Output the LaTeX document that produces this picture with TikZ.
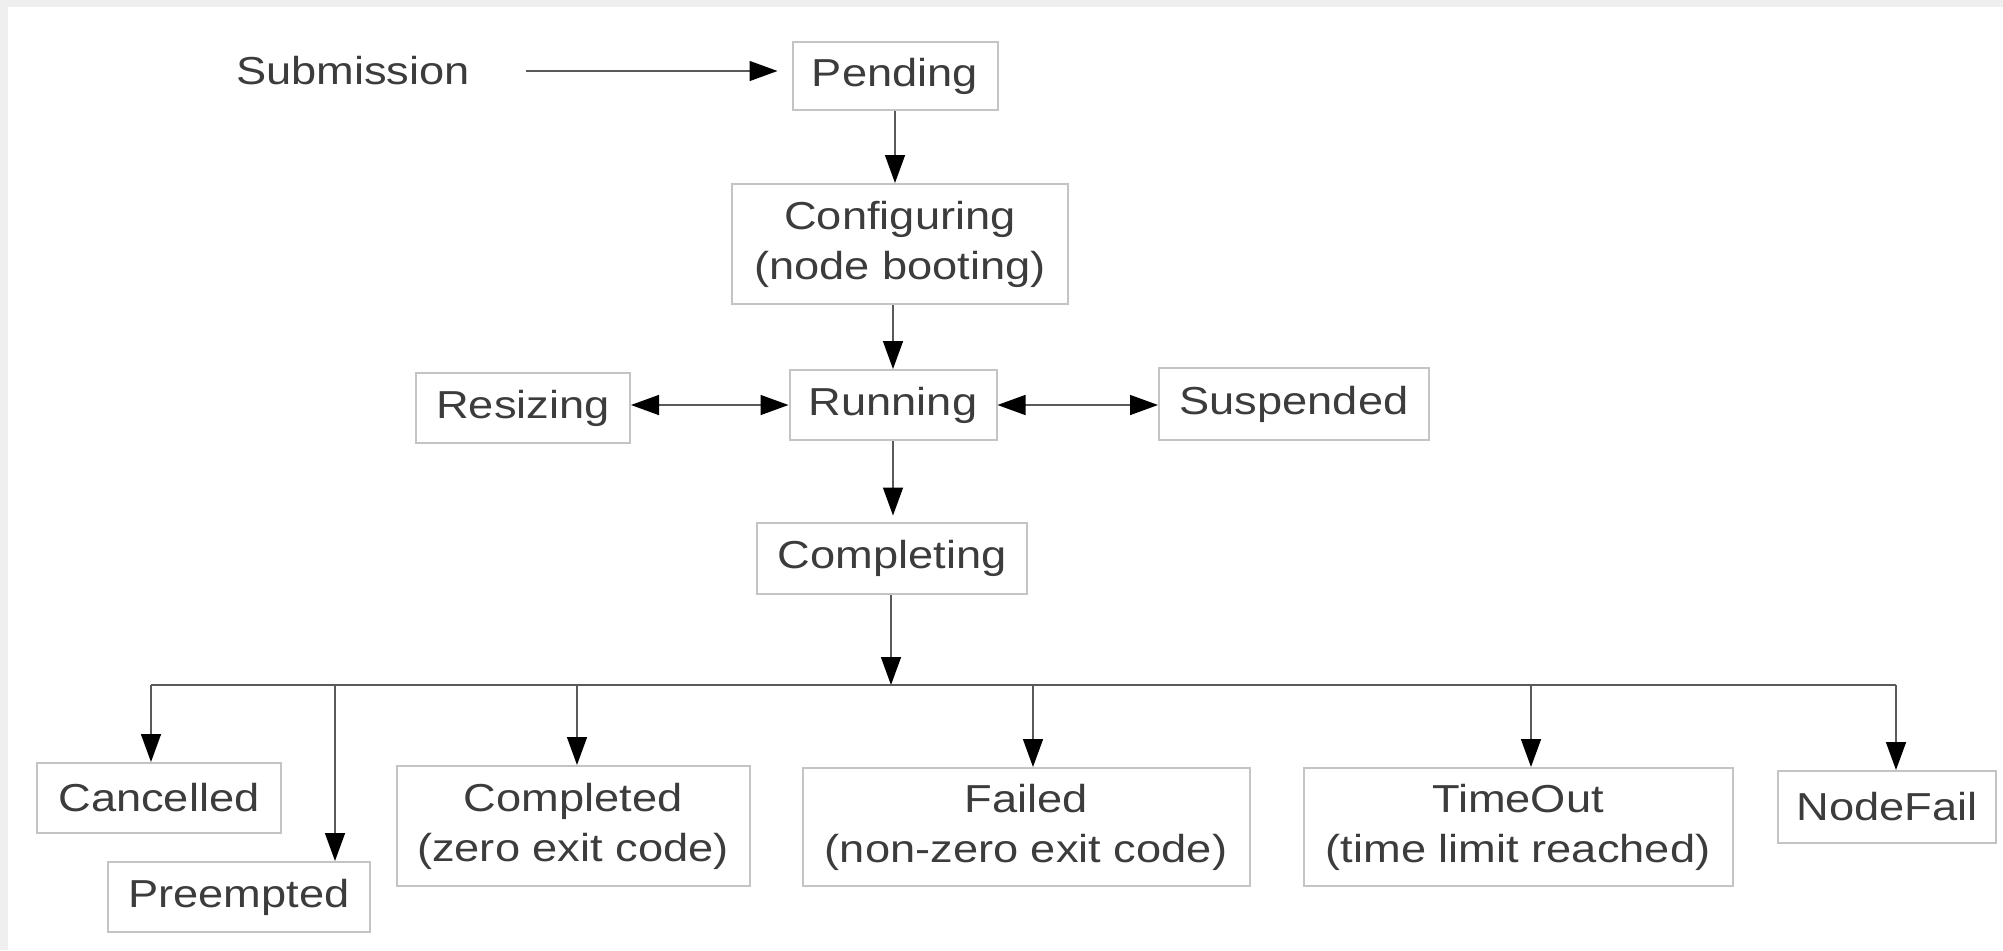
\documentclass[tikz,border=0pt]{standalone}
\usepackage{fontspec}
\setmainfont{Liberation Sans}[FakeStretch=1.16]
\usetikzlibrary{arrows.meta}
\definecolor{txt}{HTML}{3C3C3C}
\definecolor{bord}{HTML}{C4C4C4}
\definecolor{ln}{HTML}{5A5A5A}
\definecolor{framecol}{HTML}{EFEFEF}
\begin{document}
\begin{tikzpicture}[x=0.5pt,y=-0.5pt,
  every node/.style={text=txt, font=\fontsize{19.5pt}{25pt}\selectfont},
  box/.style={draw=bord, line width=1pt, fill=white, inner sep=0pt, align=center},
  tip/.style={},
  arr/.style={draw=ln, line width=0.75pt, -{Triangle[length=14pt,width=10pt,color=black]}},
  darr/.style={draw=ln, line width=0.75pt, {Triangle[length=14pt,width=10pt,color=black]}-{Triangle[length=14pt,width=10pt,color=black]}},
  busline/.style={draw=ln, line width=0.75pt}]
\fill[framecol] (0,0) rectangle (2003,950);
\fill[white] (8,7) rectangle (2003,950);
\useasboundingbox (0,0) rectangle (2003,950);

\node[inner sep=0pt] (sub) at (353,71) {Submission};
\node[box, minimum width=102.5pt, minimum height=34pt] (pend) at (895,76) {Pending};
\node[box, minimum width=168pt, minimum height=60pt] (conf) at (900,244) {Configuring\\(node booting)};
\node[box, minimum width=103.5pt, minimum height=35pt] (run) at (893,405) {Running};
\node[box, minimum width=107pt, minimum height=35pt] (res) at (523,408) {Resizing};
\node[box, minimum width=135pt, minimum height=36pt] (susp) at (1294,404) {Suspended};
\node[box, minimum width=135pt, minimum height=35.5pt] (compl) at (892,558) {Completing};
\node[box, minimum width=122pt, minimum height=35pt] (canc) at (159,798) {Cancelled};
\node[box, minimum width=131pt, minimum height=35pt] (pre) at (239,897) {Preempted};
\node[box, minimum width=176.5pt, minimum height=60pt] (done) at (573,826) {Completed\\(zero exit code)};
\node[box, minimum width=223.5pt, minimum height=59pt] (fail) at (1026,827) {Failed\\(non-zero exit code)};
\node[box, minimum width=214.5pt, minimum height=59pt] (tout) at (1518,827) {TimeOut\\(time limit reached)};
\node[box, minimum width=109pt, minimum height=36pt] (nf) at (1887,807) {NodeFail};

\draw[arr, shorten <=28pt, shorten >=7pt] (sub.east) -- (sub.east -| pend.west);
\draw[arr] (pend.south) -- (pend.south |- conf.north);
\draw[arr] (run.north |- conf.south) -- (run.north);
\draw[darr] (run.west -| res.east) -- (run.west);
\draw[darr] (run.east) -- (run.east -| susp.west);
\draw[arr, shorten >=3pt] (run.south) -- (run.south |- compl.north);

\coordinate (bj) at (891,685);
\coordinate (b1) at (151,685);
\coordinate (b2) at (335,685);
\coordinate (b3) at (577,685);
\coordinate (b4) at (1033,685);
\coordinate (b5) at (1531,685);
\coordinate (b6) at (1896,685);
\draw[arr] (compl.south -| bj) -- (bj);
\draw[busline] (b1) -- (b6);
\draw[arr] (b1) -- (b1 |- canc.north);
\draw[arr] (b2) -- (b2 |- pre.north);
\draw[arr] (b3) -- (b3 |- done.north);
\draw[arr] (b4) -- (b4 |- fail.north);
\draw[arr] (b5) -- (b5 |- tout.north);
\draw[arr] (b6) -- (b6 |- nf.north);
\end{tikzpicture}
\end{document}
